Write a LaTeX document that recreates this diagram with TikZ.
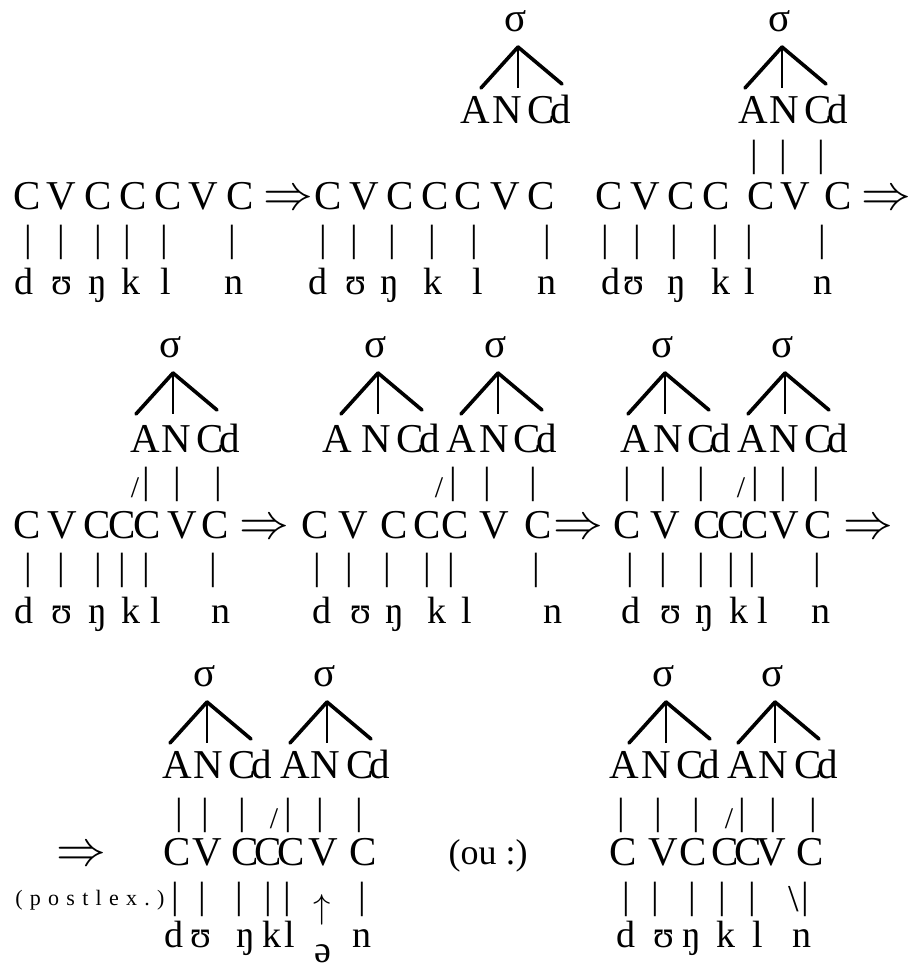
\documentclass[tikz,border=0pt]{standalone}
\usepackage{fontspec}
\setmainfont{Liberation Serif}

\newcommand{\skelfont}{\fontsize{20.5}{24}\selectfont}
\newcommand{\segfont}{\fontsize{19}{22}\selectfont}
\newcommand{\barfont}{\fontsize{19}{22}\selectfont}
\newcommand{\postfont}{\fontsize{11}{13}\selectfont\addfontfeature{LetterSpace=33}}
\newcommand{\Cd}{C\kern-0.1em d}

\tikzset{
  skel/.style={anchor=base, inner sep=0pt, font=\skelfont},
  seg/.style={anchor=base, inner sep=0pt, font=\segfont},
  assoc/.style={inner sep=0pt, font=\barfont},
  slant/.style={inner sep=0pt, font=\fontsize{15}{17}\selectfont},
  derive/.style={anchor=base, inner sep=0pt, font=\fontsize{24.88}{30}\selectfont},
  leg/.style={line width=1.8pt, line cap=round},
  stem/.style={line width=0.9pt},
}

% sigma node with its three branches: name, apex x, apex y
\newcommand{\syl}[3]{%
  \node[skel] (#1) at (#2-2,#3-16) {σ};
  \coordinate (#1-top) at (#2,#3);
  \coordinate (#1-a) at ([shift={(-37,41)}]#1-top);
  \coordinate (#1-n) at ([shift={(0,41)}]#1-top);
  \coordinate (#1-c) at ([shift={(44,37)}]#1-top);
  \draw[leg] (#1-top) -- (#1-a);
  \draw[leg] (#1-top) -- (#1-c);
  \draw[stem] (#1-top) -- (#1-n);
}

\begin{document}
\begin{tikzpicture}[x=0.5pt, y=-0.5pt]
  \useasboundingbox (0,0) rectangle (913,970);

  % ---- first line
  \syl{s11}{518}{47}
  \syl{s12}{782}{47}
  \foreach \x/\t [count=\i] in {475/A,507/N,549/\Cd,753/A,784/N,826/\Cd}
    \node[skel] (p1-\i) at (\x,123) {\t};
  \foreach \x [count=\i] in {754,783,821}
    \node[assoc] (u1-\i) at (\x,157) {|};
  \foreach \x/\t [count=\i] in {27/C,61/V,98/C,133/C,168/C,203/V,240/C,
      328/C,364/V,400/C,435/C,468/C,505/V,541/C,
      609/C,645/V,681/C,716/C,761/C,795/V,838/C}
    \node[skel] (k1-\i) at (\x,209) {\t};
  \node[derive] (d1) at (288,209) {$\Rightarrow$};
  \node[derive] (d2) at (886,209) {$\Rightarrow$};
  \foreach \x [count=\i] in {28,61,98,127,164,232,323,354,392,432,474,547,
      605,637,674,715,749,822}
    \node[assoc] (b1-\i) at (\x,242) {|};
  \foreach \x/\t [count=\i] in {24/d,62/ʊ,98/ŋ,131/k,166/l,234/n,
      318/d,356/ʊ,390/ŋ,433/k,478/l,547/n,
      611/d,634/ʊ,677/ŋ,721/k,750/l,823/n}
    \node[seg] (m1-\i) at (\x,294) {\t};

  % ---- second line
  \syl{s21}{173}{373}
  \syl{s22}{378}{373}
  \syl{s23}{498}{373}
  \syl{s24}{665}{373}
  \syl{s25}{785}{373}
  \foreach \x/\t [count=\i] in {145/A,176/N,218/\Cd,337/A,376/N,418/\Cd,
      461/A,494/N,535/\Cd,635/A,668/N,709/\Cd,752/A,784/N,826/\Cd}
    \node[skel] (p2-\i) at (\x,452) {\t};
  \foreach \x [count=\i] in {146,177,218,453,487,533,627,663,701,755,783,816}
    \node[assoc] (u2-\i) at (\x,484) {|};
  \foreach \x [count=\i] in {135,439,741}
    \node[slant] (v2-\i) at (\x,488) {/};
  \foreach \x/\t [count=\i] in {27/C,62/V,97/C,122/C,147/C,182/V,215/C,
      315/C,353/V,394/C,427/C,455/C,494/V,538/C,
      627/C,665/V,707/C,731/C,755/C,784/V,818/C}
    \node[skel] (k2-\i) at (\x,538) {\t};
  \node[derive] (d3) at (264,538) {$\Rightarrow$};
  \node[derive] (d4) at (578,538) {$\Rightarrow$};
  \node[derive] (d5) at (868,538) {$\Rightarrow$};
  \foreach \x [count=\i] in {28,61,98,122,146,213,317,349,387,427,451,536,
      630,663,701,731,752,817}
    \node[assoc] (b2-\i) at (\x,570) {|};
  \foreach \x/\t [count=\i] in {24/d,62/ʊ,98/ŋ,131/k,156/l,221/n,
      322/d,361/ʊ,395/ŋ,437/k,467/l,553/n,
      631/d,671/ʊ,705/ŋ,739/k,763/l,821/n}
    \node[seg] (m2-\i) at (\x,623) {\t};

  % ---- third line
  \syl{s31}{207}{702}
  \syl{s32}{327}{702}
  \syl{s33}{666}{702}
  \syl{s34}{775}{702}
  \foreach \x/\t [count=\i] in {177/A,208/N,250/\Cd,295/A,325/N,368/\Cd,
      624/A,656/N,698/\Cd,742/A,773/N,816/\Cd}
    \node[skel] (p3-\i) at (\x,778) {\t};
  \foreach \x [count=\i] in {179,205,242,288,320,359,621,658,696,742,773,813}
    \node[assoc] (u3-\i) at (\x,815) {|};
  \foreach \x [count=\i] in {274,729}
    \node[slant] (v3-\i) at (\x,819) {/};
  \node[derive] (d6) at (81,865) {$\Rightarrow$};
  \foreach \x/\t [count=\i] in {177/C,207/V,245/C,268/C,291/C,323/V,363/C,
      623/C,663/V,693/C,725/C,748/C,771/V,810/C}
    \node[skel] (k3-\i) at (\x,865) {\t};
  \node[anchor=base, inner sep=0pt, font=\fontsize{18}{22}\selectfont] (ou)
    at (488,864) {(ou :)};
  \node[anchor=base west, inner sep=0pt, font=\postfont] (post)
    at (15,905) {(postlex.)};
  \foreach \x [count=\i] in {175,202,239,268,287,362,626,655,692,722,752,805}
    \node[assoc] (b3-\i) at (\x,899) {|};
  \node[assoc] (bs) at (794,899) {\textbackslash};
  \node[inner sep=0pt, font=\segfont] (up) at (322,910) {$\uparrow$};
  \foreach \x/\t [count=\i] in {174/d,201/ʊ,246/ŋ,272/k,290/l,362/n,
      626/d,664/ʊ,692/ŋ,726/k,758/l,802/n}
    \node[seg] (m3-\i) at (\x,947) {\t};
  \node[seg] (schwa) at (323,962) {ə};
\end{tikzpicture}
\end{document}
